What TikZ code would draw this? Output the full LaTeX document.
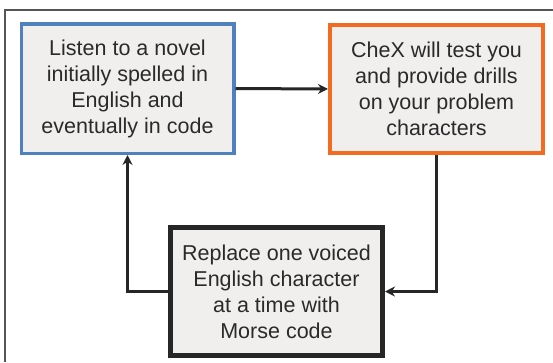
\documentclass[tikz,border=0pt]{standalone}
\usepackage{fontspec}
\setmainfont{Liberation Sans}
\usetikzlibrary{arrows.meta}
\definecolor{boxfill}{HTML}{F0EFEE}
\definecolor{boxblue}{HTML}{4F81BD}
\definecolor{boxorange}{HTML}{F26B21}
\definecolor{txt}{HTML}{2A2A2A}
\definecolor{frame}{HTML}{555555}
\tikzset{
  stepbox/.style={rectangle, fill=boxfill, align=center, text=txt,
    font=\fontsize{21.5pt}{26pt}\selectfont, inner sep=0pt},
  conn/.style={line width=3pt, draw=black!85, -{Stealth[length=10pt,width=10pt]}}
}
\begin{document}
\begin{tikzpicture}[x=1pt,y=-1pt]
\useasboundingbox (0,0) rectangle (553,362);
\fill[white] (0,0) rectangle (553,362);
\draw[frame, line width=1.2pt] (5,362) -- (5,10) -- (553,10);
\node[stepbox, draw=boxblue, line width=3.5pt, minimum width=212.5pt, minimum height=129.5pt] (listen) at (127.5,88.5)
  {Listen to a novel\\initially spelled in\\English and\\eventually in code};
\node[stepbox, draw=boxorange, line width=4pt, minimum width=213pt, minimum height=128pt] (chex) at (436.5,89)
  {CheX will test you\\and provide drills\\on your problem\\characters};
\node[stepbox, draw=black!85, line width=5pt, minimum width=212pt, minimum height=128pt] (replace) at (276.5,291.5)
  {Replace one voiced\\English character\\at a time with\\Morse code};
\draw[conn] (listen.east) -- (chex.west);
\draw[conn] (chex.south) |- (replace.east);
\draw[conn] (replace.west) -| (listen.south);
\end{tikzpicture}
\end{document}
